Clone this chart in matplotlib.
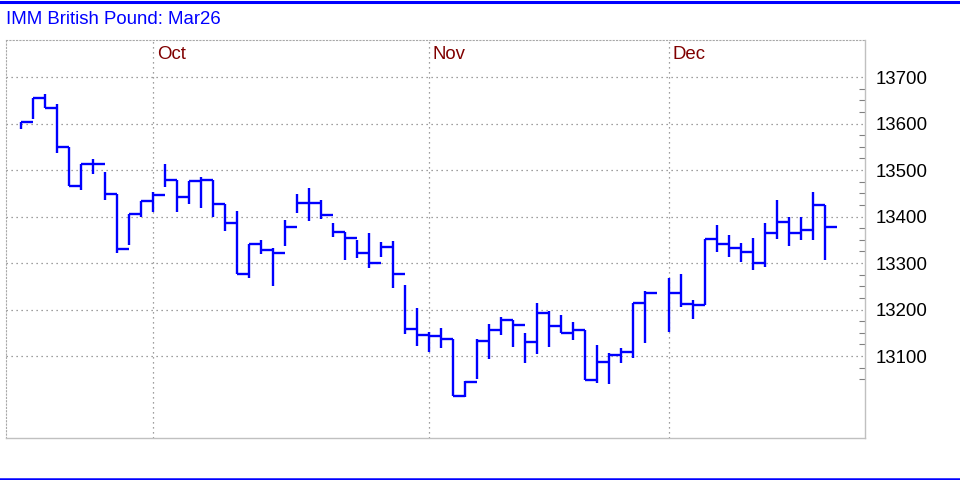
import matplotlib
matplotlib.use("Agg")
import matplotlib.pyplot as plt
import matplotlib.transforms as mtransforms
from matplotlib.ticker import FixedLocator, NullFormatter
import numpy as np

plt.rcParams['font.family'] = ['Liberation Sans', 'DejaVu Sans']

title = "IMM British Pound: Mar26"

# Daily HLC bars (trading-day index); None marks a day without a bar
highs = [13604, 13655, 13663, 13643, 13550, 13514, 13524, 13495, 13448, 13406,
         13433, 13453, 13514, 13479, 13477, 13484, 13479, 13426, 13411, 13340,
         13349, 13332, 13392, 13448, 13461, 13435, 13387, 13367, 13349, 13364,
         13345, 13347, 13253, 13203, 13152, 13160, 13137, 13047, 13136, 13168,
         13183, 13178, 13149, 13215, 13197, 13188, 13173, 13156, 13124, 13106,
         13117, 13213, 13240, None, 13267, 13276, 13220, 13351, 13382, 13360,
         13342, 13353, 13385, 13435, 13400, 13398, 13452, 13424]
lows = [13588, 13609, 13633, 13536, 13466, 13456, 13492, 13435, 13321, 13339,
        13398, 13410, 13464, 13410, 13426, 13419, 13400, 13369, 13276, 13267,
        13319, 13251, 13337, 13407, 13391, 13394, 13357, 13306, 13311, 13289,
        13312, 13246, 13147, 13122, 13108, 13117, 13014, 13011, 13050, 13093,
        13145, 13120, 13086, 13104, 13120, 13149, 13134, 13048, 13041, 13039,
        13084, 13096, 13129, None, 13152, 13205, 13179, 13210, 13323, 13314,
        13303, 13286, 13292, 13352, 13337, 13349, 13349, 13306]
closes = [13604, 13655, 13634, 13550, 13466, 13514, 13514, 13448, 13331, 13406,
          13433, 13447, 13479, 13443, 13477, 13479, 13426, 13387, 13276, 13340,
          13328, 13322, 13378, 13430, 13430, 13404, 13367, 13353, 13321, 13301,
          13334, 13276, 13159, 13145, 13142, 13137, 13014, 13045, 13132, 13157,
          13178, 13167, 13131, 13193, 13165, 13149, 13156, 13048, 13088, 13102,
          13109, 13213, 13236, None, 13236, 13212, 13210, 13351, 13340, 13333,
          13324, 13301, 13365, 13389, 13365, 13371, 13424, 13377]

month_labels = ["Oct", "Nov", "Dec"]
month_index = [11, 34, 54]

y_ticks = [13100, 13200, 13300, 13400, 13500, 13600, 13700]
y_tick_labels = ["13100", "13200", "13300", "13400", "13500", "13600", "13700"]

W, H = 960, 480
fig = plt.figure(figsize=(W / 100, H / 100), dpi=100)
fig.patch.set_facecolor("white")

# top / bottom blue rules
fig.add_artist(plt.Line2D([0, 1], [1 - 1.5 / H, 1 - 1.5 / H], color="#0000ff", lw=2.2,
                          transform=fig.transFigure))
fig.add_artist(plt.Line2D([0, 1], [1.2 / H, 1.2 / H], color="#0000ff", lw=1.8,
                          transform=fig.transFigure))

fig.text(6 / W, 1 - 20 / H, title, color="#0000ff", fontsize=13.4, va="center", ha="left")

left_px, right_px, top_px, bottom_px = 6, 865, 40, 438
ax = fig.add_axes([left_px / W, 1 - bottom_px / H, (right_px - left_px) / W, (bottom_px - top_px) / H])

idx = np.arange(len(highs))
valid = [i for i in idx if highs[i] is not None]
xs = np.array(valid, dtype=float)
hi = np.array([highs[i] for i in valid], dtype=float)
lo = np.array([lows[i] for i in valid], dtype=float)
cl = np.array([closes[i] for i in valid], dtype=float)

bar_color = "#0000ff"
vl = ax.vlines(xs, lo, hi, color=bar_color, lw=1.7, zorder=3)
hl = ax.hlines(cl, xs, xs + 1, color=bar_color, lw=1.7, zorder=3)
vl.set_snap(True)
hl.set_snap(True)

ax.set_xlim(-1.225, 70.36)
ax.set_ylim(12923.7, 13779.6)

# grid
grid_kw = dict(color="#808080", lw=0.9, linestyle=(0, (1, 3)), zorder=1)
for yv in y_ticks:
    ax.axhline(yv, **grid_kw)
for mi in month_index:
    ax.axvline(mi, **grid_kw)

# month labels
trans = mtransforms.blended_transform_factory(ax.transData, ax.transAxes)
off = mtransforms.offset_copy(trans, fig=fig, x=4, y=0, units="dots")
for lab, mi in zip(month_labels, month_index):
    ax.text(mi, (bottom_px - 54.5) / (bottom_px - top_px), lab, transform=off,
            color="#800000", fontsize=13.4, ha="left", va="center")

# spines
for s in ["left", "top"]:
    ax.spines[s].set_color("#a8a8a8")
    ax.spines[s].set_linestyle((0, (1, 2)))
    ax.spines[s].set_linewidth(0.8)
for s in ["right", "bottom"]:
    ax.spines[s].set_color("#c0c0c0")
    ax.spines[s].set_linewidth(1.0)

ax.set_xticks([])
ax.yaxis.tick_right()
ax.set_yticks(y_ticks)
ax.set_yticklabels(y_tick_labels)
ax.tick_params(axis="y", which="major", length=0, pad=7.5, labelsize=13.4, labelcolor="black")
ax.yaxis.set_minor_locator(FixedLocator(np.arange(13050, 13700, 25)))
ax.yaxis.set_minor_formatter(NullFormatter())
ax.tick_params(axis="y", which="minor", direction="in", length=4, width=0.8, color="#808080",
               right=True, left=False)

fig.savefig("out.png", dpi=100)
